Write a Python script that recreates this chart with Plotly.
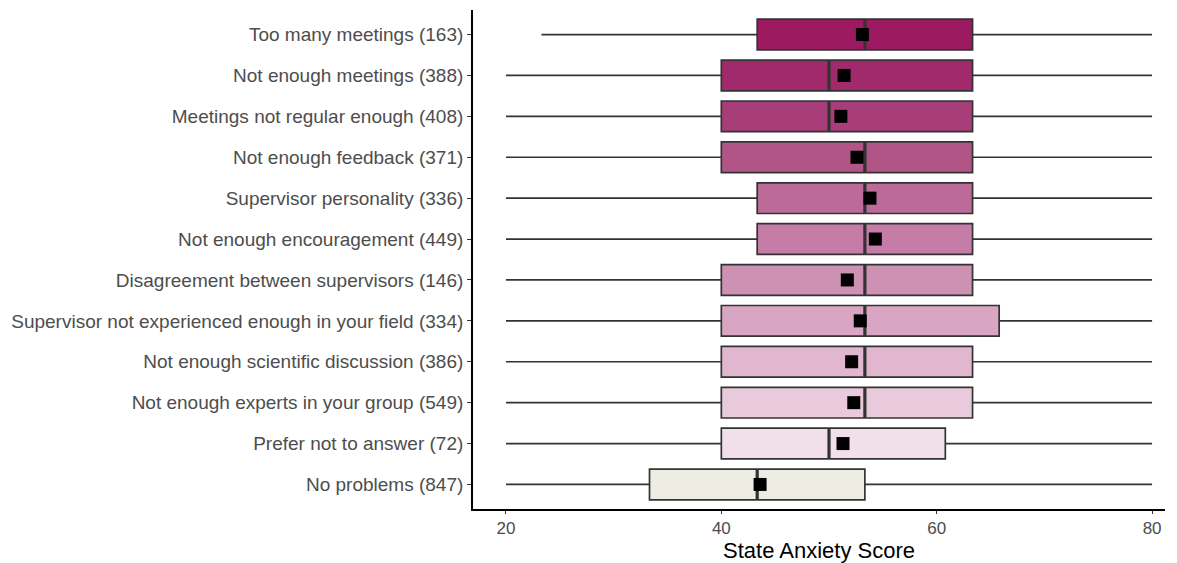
import plotly.graph_objects as go

# top to bottom as in the chart
categories = [
    "Too many meetings (163)",
    "Not enough meetings (388)",
    "Meetings not regular enough (408)",
    "Not enough feedback (371)",
    "Supervisor personality (336)",
    "Not enough encouragement (449)",
    "Disagreement between supervisors (146)",
    "Supervisor not experienced enough in your field (334)",
    "Not enough scientific discussion (386)",
    "Not enough experts in your group (549)",
    "Prefer not to answer (72)",
    "No problems (847)",
]
lower = [23.3, 20, 20, 20, 20, 20, 20, 20, 20, 20, 20, 20]
q1 = [43.33, 40, 40, 40, 43.33, 43.33, 40, 40, 40, 40, 40, 33.33]
median = [53.33, 50, 50, 53.33, 53.33, 53.33, 53.33, 53.33, 53.33, 53.33, 50, 43.33]
q3 = [63.33, 63.33, 63.33, 63.33, 63.33, 63.33, 63.33, 65.8, 63.33, 63.33, 60.8, 53.33]
upper = [80] * 12
means = [53.1, 51.4, 51.1, 52.6, 53.8, 54.3, 51.7, 52.9, 52.1, 52.3, 51.3, 43.6]
colors = ["#9C1A60", "#A02A6B", "#A83E79", "#B15486", "#BC6A97", "#C57CA6",
          "#CD91B3", "#D8A6C3", "#E0B7CE", "#E9CADC", "#F1DFEA", "#EDEDE4"]

fig = go.Figure()
for i, cat in enumerate(categories):
    fig.add_trace(go.Box(
        y=[cat], q1=[q1[i]], median=[median[i]], q3=[q3[i]],
        lowerfence=[lower[i]], upperfence=[upper[i]],
        orientation="h", fillcolor=colors[i],
        line=dict(color="#333333", width=1.7),
        whiskerwidth=0, width=0.75, boxpoints=False, showlegend=False,
    ))

# thicker median bars, like ggplot
fig.add_trace(go.Scatter(
    x=median, y=categories, mode="markers",
    marker=dict(symbol="line-ns", size=21.5, line=dict(color="#333333", width=3.2)),
    showlegend=False, hoverinfo="skip",
))

fig.add_trace(go.Scatter(
    x=means, y=categories, mode="markers",
    marker=dict(symbol="square", size=13, color="black"),
    showlegend=False,
))

# page body has an 8px margin, so the figure is sized to sit inside the window
fig.update_layout(
    width=1169, height=555,
    margin=dict(l=465, r=12, t=2, b=49),
    plot_bgcolor="white", paper_bgcolor="white",
    font=dict(family="Liberation Sans, Arial, sans-serif", size=19, color="#4D4D4D"),
    boxmode="overlay",
)
fig.update_xaxes(
    range=[16.94, 81.2], tickvals=[20, 40, 60, 80], tickfont=dict(size=17),
    showgrid=False, zeroline=False,
    showline=True, linecolor="black", linewidth=1.8,
    ticks="outside", ticklen=3, tickcolor="#333333", tickwidth=1.2,
    title=dict(text="State Anxiety Score", font=dict(size=22, color="black"), standoff=7),
)
fig.update_yaxes(
    type="category", categoryorder="array", categoryarray=categories[::-1],
    range=[-0.6, 11.6], showgrid=False, zeroline=False,
    showline=True, linecolor="black", linewidth=1.8,
    ticks="outside", ticklen=4, tickcolor="#333333", tickwidth=1.2,
)

fig.write_html("out.html")
